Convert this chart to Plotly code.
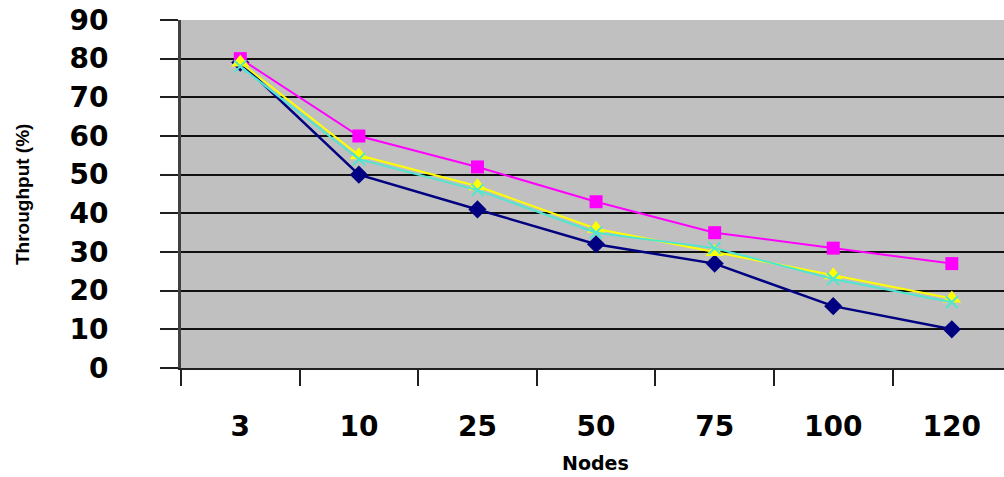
import plotly.graph_objects as go

nodes = ["3", "10", "25", "50", "75", "100", "120"]
series_navy = [79, 50, 41, 32, 27, 16, 10]
series_pink = [80, 60, 52, 43, 35, 31, 27]
series_yellow = [79, 55, 47, 36, 30, 24, 18]
series_cyan = [78, 54, 46, 35, 31, 23, 17]
y_ticks = [0, 10, 20, 30, 40, 50, 60, 70, 80, 90]

W, H = 1004, 477
L, R, T, B = 181, 0, 20, 109

fig = go.Figure()
fig.add_trace(go.Scatter(x=nodes, y=series_navy, mode="lines+markers",
                         line=dict(color="#000080", width=2.5),
                         marker=dict(symbol="diamond", size=14, color="#000080")))
fig.add_trace(go.Scatter(x=nodes, y=series_pink, mode="lines+markers",
                         line=dict(color="#FF00FF", width=2),
                         marker=dict(symbol="square", size=13, color="#FF00FF")))
fig.add_trace(go.Scatter(x=nodes, y=series_yellow, mode="lines+markers",
                         line=dict(color="#FFFF00", width=2),
                         marker=dict(symbol="triangle-up", size=16, color="#FFFF00")))
fig.add_trace(go.Scatter(x=nodes, y=series_cyan, mode="lines+markers",
                         line=dict(color="#4FE6D0", width=2),
                         marker=dict(symbol="x-thin-open", size=12,
                                     line=dict(color="#4FE6D0", width=2))))

tickfont = dict(family="DejaVu Sans", size=28, color="black", weight="bold")

fig.update_layout(
    width=W, height=H,
    margin=dict(l=L, r=R, t=T, b=B),
    paper_bgcolor="white",
    plot_bgcolor="#C0C0C0",
    showlegend=False,
    xaxis=dict(
        type="category",
        range=[-0.5, 6.44],
        tickson="boundaries",
        ticks="outside", ticklen=16, tickwidth=2, tickcolor="#202020",
        showline=True, linecolor="#202020", linewidth=2,
        showgrid=False,
        tickfont=tickfont,
        ticklabelstandoff=32,
    ),
    yaxis=dict(
        range=[0, 90],
        tickvals=y_ticks,
        ticks="outside", ticklen=18, tickwidth=2, tickcolor="#202020",
        showline=True, linecolor="#404040", linewidth=3,
        showgrid=True, gridcolor="#101010", gridwidth=2,
        tickfont=tickfont,
        ticklabelstandoff=46,
        zeroline=False,
    ),
    annotations=[
        dict(text="Throughput (%)", xref="paper", yref="paper",
             x=(22 - L) / (W - L - R), y=(H - B - 195) / (H - T - B),
             xanchor="center", yanchor="middle", textangle=-90, showarrow=False,
             font=dict(family="Liberation Sans Narrow, Liberation Sans", size=19,
                       color="black", weight="bold")),
        dict(text="Nodes", xref="paper", yref="paper",
             x=(595 - L) / (W - L - R), y=-(463 - (H - B)) / (H - T - B),
             xanchor="center", yanchor="middle", showarrow=False,
             font=dict(family="DejaVu Sans", size=19, color="black", weight="bold")),
    ],
)

fig.write_html("out.html")
